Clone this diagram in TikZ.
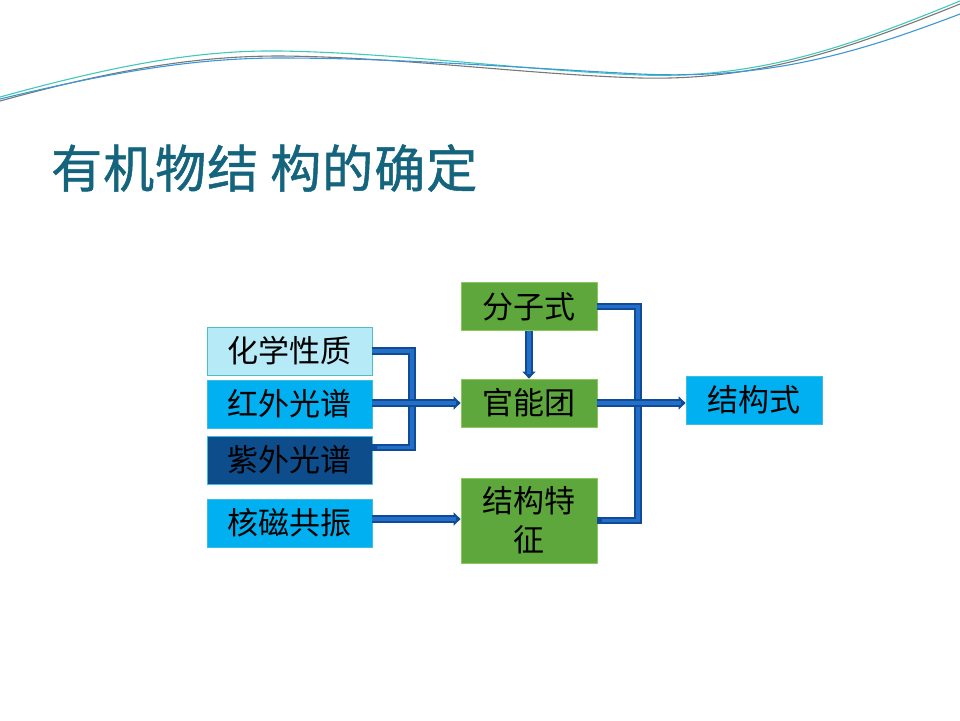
\documentclass[tikz,border=0pt]{standalone}
\usepackage{fontspec}
\newfontfamily\cjk{Noto Sans CJK SC}
\newfontfamily\cjkt[FakeBold=1,LetterSpace=2]{Noto Sans CJK SC}
\usetikzlibrary{arrows.meta,calc}
\definecolor{lcyan}{RGB}{183,234,247}
\definecolor{lcyanb}{RGB}{75,190,200}
\definecolor{cyanf}{RGB}{0,176,240}
\definecolor{cyanb}{RGB}{60,190,220}
\definecolor{dblue}{RGB}{14,77,140}
\definecolor{gfill}{RGB}{94,167,60}
\definecolor{gborder}{RGB}{140,200,90}
\definecolor{cdark}{RGB}{16,76,150}
\definecolor{clight}{RGB}{35,110,200}
\definecolor{titlec}{RGB}{20,100,125}
\definecolor{wteal}{RGB}{64,200,185}
\definecolor{wblue}{RGB}{60,150,215}
\definecolor{wgrey}{RGB}{120,120,120}
\tikzset{
  box/.style={draw, line width=0.8pt, minimum height=48pt, inner sep=0pt, font=\cjk\fontsize{31}{34}\selectfont, text=black},
  lbox/.style={box, minimum width=165pt},
  gbox/.style={box, minimum width=136pt, fill=gfill, draw=gborder},
  conn/.style={draw=cdark, line width=7.5pt,
     postaction={draw=clight, line width=3.5pt, -, shorten >=5pt}},
  arr/.style={conn, -{Triangle[length=7pt,width=13pt]}},
  wave/.style={line width=1.1pt}
}
\begin{document}
\begin{tikzpicture}[x=1pt,y=-1pt]
\useasboundingbox (0,0) rectangle (960,720);
% top wave
\draw[wave,wgrey] (0,101) .. controls (120,68) and (200,56) .. (280,56) .. controls (400,57) and (520,74) .. (640,78) .. controls (760,81) and (850,48) .. (960,4);
\draw[wave,wteal] (0,97) .. controls (120,64) and (200,50) .. (280,51) .. controls (400,53) and (520,70) .. (640,75) .. controls (760,79) and (850,46) .. (960,1);
\draw[wave,wblue] (0,99) .. controls (120,70) and (200,58) .. (280,58) .. controls (400,58) and (520,68) .. (640,74) .. controls (770,80) and (860,52) .. (960,14);
% title
\node[anchor=west, text=titlec, font=\cjkt\fontsize{51}{56}\selectfont, inner sep=0pt] (title) at (51,168) {有机物结\hspace{12pt}构的确定};
% left boxes
\node[lbox, fill=lcyan, draw=lcyanb] (hx) at (289.5,351) {化学性质};
\node[lbox, fill=cyanf, draw=cyanb] (hw) at (289.5,404) {红外光谱};
\node[lbox, fill=dblue, draw=cyanb] (zw) at (289.5,460) {紫外光谱};
\node[lbox, fill=cyanf, draw=cyanb] (hc) at (289.5,523) {核磁共振};
% middle boxes
\node[gbox] (fz) at (529,306.5) {分子式};
\node[gbox] (gn) at (529,403) {官能团};
\node[gbox, minimum height=85pt, text width=120pt, align=center, font=\cjk\fontsize{31}{39}\selectfont] (jt) at (529,520.5) {结构特\\征};
% right box
\node[box, minimum width=136pt, fill=cyanf, draw=cyanb] (js) at (754,400) {结构式};
% connectors
\coordinate (lx) at (412,0);
\coordinate (rx) at (638,0);
\draw[conn] (hx.east) -- (hx.east -| lx) -- ($(zw.east -| lx)+(0,-12.5)$) -- ($(zw.east)+(0,-12.5)$);
\draw[arr] (hw.east |- gn.west) -- (gn.west);
\draw[arr] ($(hc.east)+(0,-4)$) -- ($(jt.west)+(0,-1.5)$);
\draw[arr] (fz.south) -- (gn.north);
\draw[conn] (fz.east) -- (fz.east -| rx) -- (jt.east -| rx) -- (jt.east);
\draw[arr] (gn.east) -- (gn.east -| js.west);
\end{tikzpicture}
\end{document}
